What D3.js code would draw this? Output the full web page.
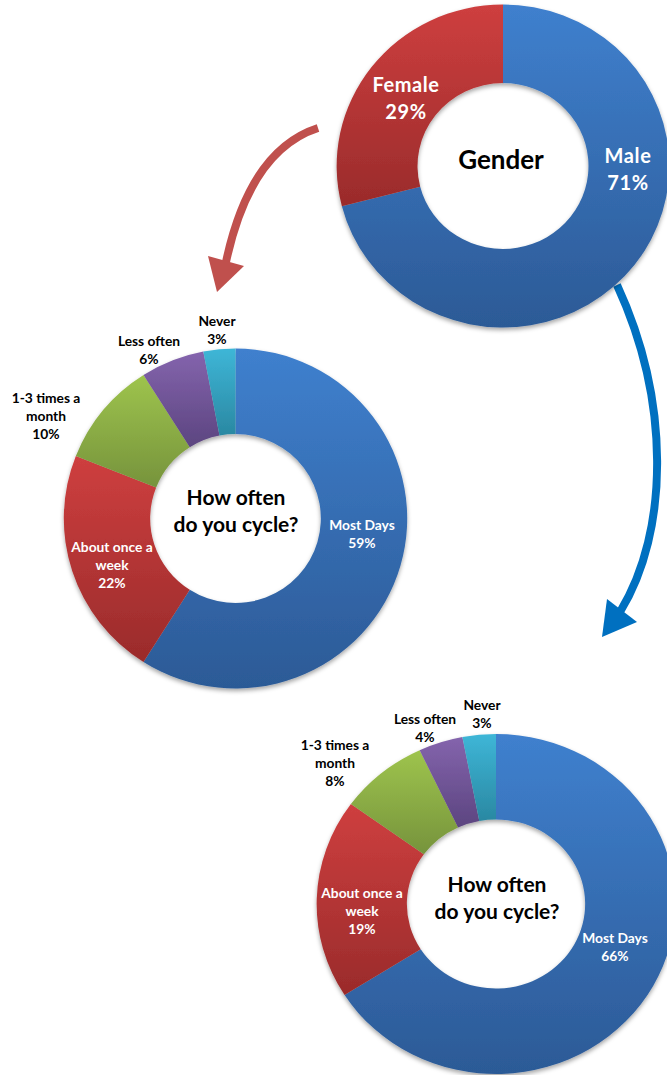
<!DOCTYPE html>
<html>
<head>
<meta charset="utf-8">
<script src="https://cdn.jsdelivr.net/npm/d3@7"></script>
<style>
  body { margin: 0; background: #fff; }
  svg { display: block; }
  text { font-family: Lato, "Open Sans", sans-serif; font-weight: 700; }
</style>
</head>
<body>
<svg id="chart" width="667" height="1075"></svg>
<script>
// ---- data ----
const genderCategories = ["Male", "Female"];
const genderValues = [71, 29];
const genderTitle = ["Gender"];

const cycleCategories = ["Most Days", "About once a week", "1-3 times a month", "Less often", "Never"];
const cycleLabelLines = [["Most Days"], ["About once a", "week"], ["1-3 times a", "month"], ["Less often"], ["Never"]];
const cycleValuesFemale = [59, 22, 10, 6, 3];
const cycleValuesMale = [66, 19, 8, 4, 3];
const cycleTitle = ["How often", "do you cycle?"];

// ---- styling ----
const palette = {
  blue:   ["#3f80ce", "#2c5a96"],
  red:    ["#ce3f3f", "#9a2b2b"],
  green:  ["#9ec44d", "#76933c"],
  purple: ["#8464ad", "#5c4580"],
  cyan:   ["#3eb6d7", "#2a88a2"]
};
const genderColors = ["blue", "red"];
const cycleColors = ["blue", "red", "green", "purple", "cyan"];

const svg = d3.select("#chart");
const defs = svg.append("defs");

defs.append("filter")
    .attr("id", "shadow")
    .attr("x", "-10%").attr("y", "-10%").attr("width", "120%").attr("height", "125%")
  .append("feDropShadow")
    .attr("dx", 0).attr("dy", 2.5).attr("stdDeviation", 2)
    .attr("flood-color", "#000").attr("flood-opacity", 0.35);

Object.entries(palette).forEach(([name, [c0, c1]]) => {
  const g = defs.append("linearGradient")
      .attr("id", "grad-" + name)
      .attr("x1", 0).attr("y1", 0).attr("x2", 0).attr("y2", 1);
  g.append("stop").attr("offset", "0%").attr("stop-color", c0);
  g.append("stop").attr("offset", "100%").attr("stop-color", c1);
});

// ---- arrows linking the gender ring to the two breakdowns ----
function arrow(pathD, head, color) {
  const g = svg.append("g");
  g.append("path")
    .attr("d", pathD)
    .attr("fill", "none")
    .attr("stroke", color)
    .attr("stroke-width", 8);
  g.append("polygon")
    .attr("points", head.map(p => p.join(",")).join(" "))
    .attr("fill", color);
}

const redPath = d3.path();
redPath.moveTo(318, 128);
redPath.quadraticCurveTo(250, 150, 226, 262);
arrow(redPath.toString(), [[208, 256], [244, 266], [217, 292]], "#c0504d");

const bluePath = d3.path();
bluePath.moveTo(617, 285);
bluePath.bezierCurveTo(670, 400, 670, 530, 620, 612);
arrow(bluePath.toString(), [[607, 599], [637, 622], [602, 637]], "#0070c0");

// ---- donut drawing ----
function donut(cfg) {
  const pie = d3.pie().sort(null).value(d => d.value);
  const arc = d3.arc().innerRadius(cfg.inner).outerRadius(cfg.outer);
  const data = cfg.categories.map((c, i) => ({ category: c, value: cfg.values[i], i }));

  const g = svg.append("g").attr("transform", `translate(${cfg.cx},${cfg.cy})`);

  g.append("g")
    .attr("filter", "url(#shadow)")
    .attr("transform", `scale(${cfg.sx},1)`)
    .selectAll("path")
    .data(pie(data))
    .join("path")
      .attr("d", arc)
      .attr("fill", d => `url(#grad-${cfg.colors[d.data.i]})`);

  // centre title
  const title = g.append("text")
    .attr("text-anchor", "middle")
    .attr("fill", "#000")
    .attr("font-size", cfg.titleSize);
  cfg.title.forEach((t, k) => {
    title.append("tspan")
      .attr("x", cfg.titlePos[0])
      .attr("y", cfg.titlePos[1] + (k - (cfg.title.length - 1) / 2) * cfg.titleLine)
      .attr("dy", "0.35em")
      .text(t);
  });

  // slice labels: category lines + percentage
  data.forEach((d, i) => {
    const lines = cfg.labelLines[i].concat([d.value + "%"]);
    const [lx, ly] = cfg.labelPos[i];
    const t = g.append("text")
      .attr("text-anchor", "middle")
      .attr("fill", cfg.labelFill[i])
      .attr("font-size", cfg.labelSize)
      .attr("letter-spacing", cfg.labelSpacing || 0);
    lines.forEach((s, k) => {
      t.append("tspan")
        .attr("x", lx)
        .attr("y", ly + (k - (lines.length - 1) / 2) * cfg.labelLine)
        .attr("dy", "0.35em")
        .text(s);
    });
  });
}

donut({
  cx: 503, cy: 166, outer: 161.5, inner: 83, sx: 1.03,
  categories: genderCategories, values: genderValues, colors: genderColors,
  labelLines: [["Male"], ["Female"]],
  labelPos: [[125, 3.5], [-97, -67.5]],
  labelFill: ["#fff", "#fff"],
  labelSize: 20, labelLine: 27, labelSpacing: 0.6,
  title: genderTitle, titlePos: [-2, -6], titleSize: 26, titleLine: 30
});

donut({
  cx: 235.5, cy: 518.5, outer: 170, inner: 84.5, sx: 1.01,
  categories: cycleCategories, values: cycleValuesFemale, colors: cycleColors,
  labelLines: cycleLabelLines,
  labelPos: [[126.5, 16], [-123.5, 46.5], [-189.5, -102], [-86.5, -168.5], [-18.5, -188]],
  labelFill: ["#fff", "#fff", "#000", "#000", "#000"],
  labelSize: 13.8, labelLine: 18,
  title: cycleTitle, titlePos: [0.5, -7], titleSize: 21, titleLine: 27
});

donut({
  cx: 496, cy: 904, outer: 170, inner: 84.5, sx: 1.055,
  categories: cycleCategories, values: cycleValuesMale, colors: cycleColors,
  labelLines: cycleLabelLines,
  labelPos: [[119, 43.5], [-134, 7], [-161, -140.5], [-71, -176], [-14, -189.5]],
  labelFill: ["#fff", "#fff", "#000", "#000", "#000"],
  labelSize: 13.8, labelLine: 18,
  title: cycleTitle, titlePos: [1, -5.5], titleSize: 21, titleLine: 27
});
</script>
</body>
</html>
